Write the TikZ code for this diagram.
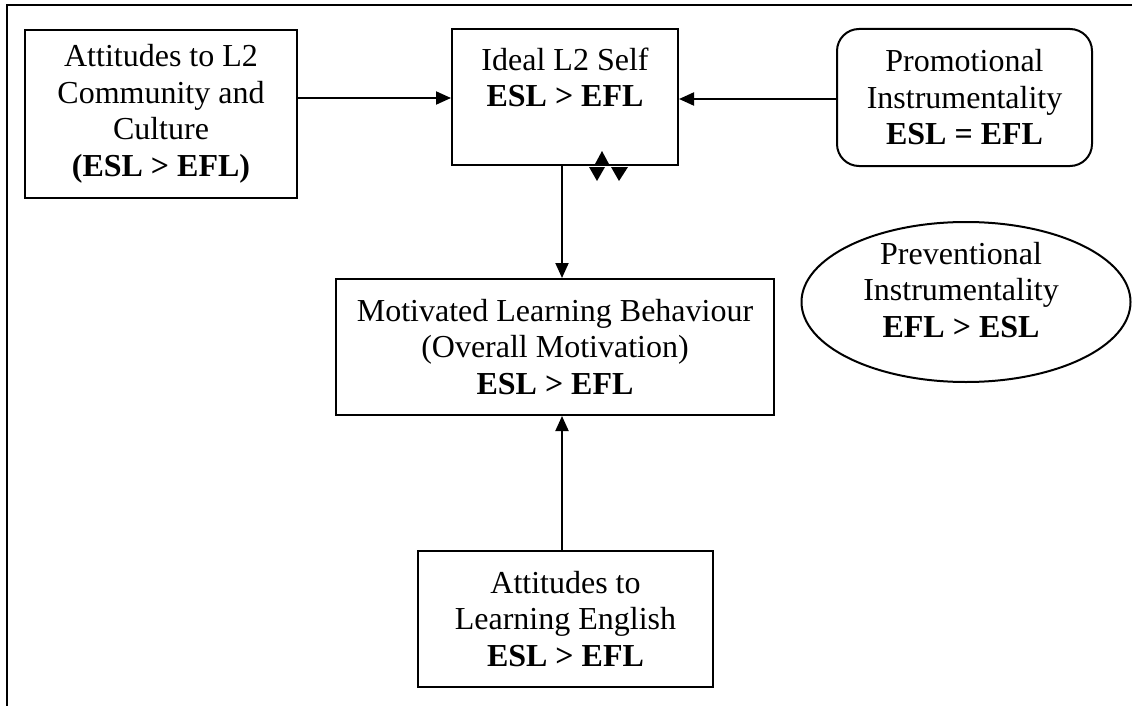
\documentclass[tikz,border=0pt]{standalone}
\usepackage{fontspec}
\setmainfont{Liberation Serif}
\usetikzlibrary{shapes.geometric,arrows.meta}
\begin{document}
\begin{tikzpicture}[x=1pt,y=-1pt,
  txt/.style={font=\fontsize{32}{36.5}\selectfont, align=center, inner sep=0pt},
  box/.style={txt, draw, line width=2pt, rectangle},
  rbox/.style={box, rounded corners=22pt},
  oval/.style={draw, line width=2pt, ellipse, inner sep=0pt},
  arr/.style={line width=2pt, -{Triangle[length=15pt,width=13pt]}},
  frame/.style={line width=2.2pt}]
\useasboundingbox (0,0) rectangle (1132,706);
% outer frame
\draw[frame] (7,706) -- (7,5) -- (1132,5);
% nodes
\node[box, minimum width=272pt, minimum height=168pt] (att) at (161,114)
  {Attitudes to L2\\Community and\\Culture\\\textbf{(ESL > EFL)}};
\node[box, minimum width=226pt, minimum height=136pt] (ideal) at (565,97) {};
\node[txt, anchor=base] (idealtxt) at (565,107) {Ideal L2 Self\\\textbf{ESL > EFL}};
\node[rbox, minimum width=255pt, minimum height=137pt] (prom) at (964.5,97.5)
  {Promotional\\Instrumentality\\\textbf{ESL = EFL}};
\node[oval, minimum width=329pt, minimum height=160pt] (prev) at (966,302) {};
\node[txt, anchor=base] (prevtxt) at (961,337) {Preventional\\Instrumentality\\\textbf{EFL > ESL}};
\node[box, minimum width=438pt, minimum height=136pt] (mot) at (555,347)
  {Motivated Learning Behaviour\\(Overall Motivation)\\\textbf{ESL > EFL}};
\node[box, minimum width=295pt, minimum height=136pt] (lea) at (565.5,619)
  {Attitudes to\\Learning English\\\textbf{ESL > EFL}};
% connectors
\draw[arr] (att.east |- 0,98) -- (ideal.west |- 0,98);
\draw[arr] (prom.west |- 0,99) -- (ideal.east |- 0,99);
\draw[arr] ([xshift=-3pt]ideal.south) -- ([xshift=-3pt]ideal.south |- mot.north);
\draw[arr] ([xshift=-3.5pt]lea.north) -- ([xshift=-3.5pt]lea.north |- mot.south);
% stray arrowhead marks
\fill (602,151) -- (609.5,165) -- (594.5,165) -- cycle;
\fill (589,167) -- (605,167) -- (597,181) -- cycle;
\fill (611,167) -- (628,167) -- (619,181) -- cycle;
\end{tikzpicture}
\end{document}
